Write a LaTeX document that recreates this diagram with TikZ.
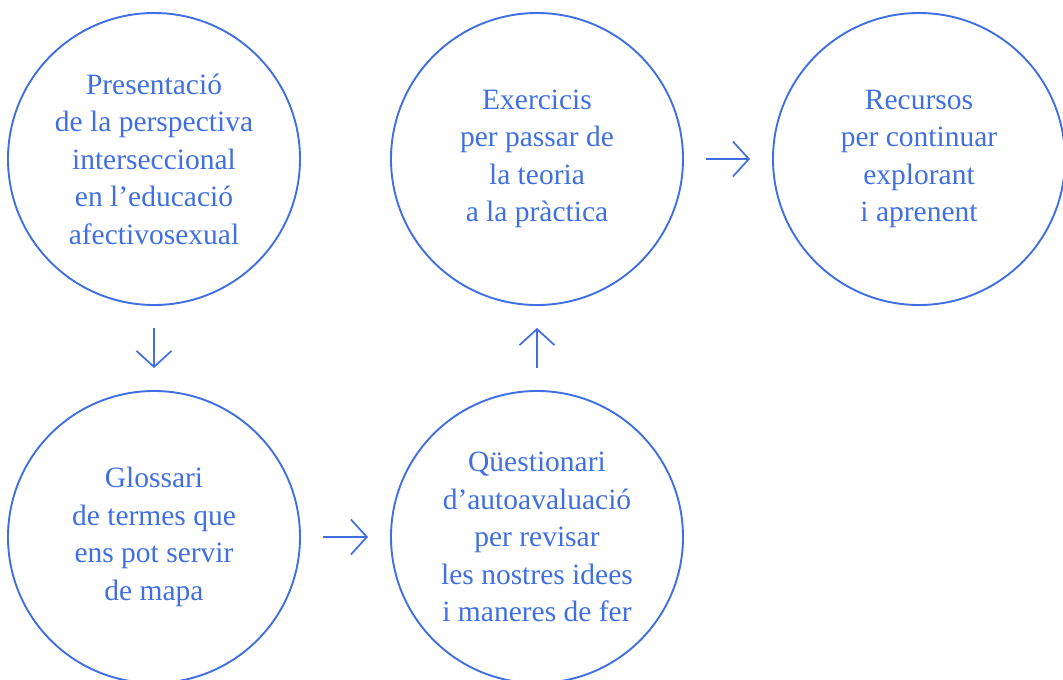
\documentclass[tikz,border=0pt]{standalone}
\usepackage{fontspec}
\setmainfont{Liberation Serif}
\usetikzlibrary{arrows.meta}
\definecolor{ringblue}{HTML}{3F6FE2}
\tikzset{
  ring/.style={circle, draw=ringblue, line width=1.9pt, minimum size=292pt, inner sep=0pt,
    text=ringblue, align=center, font=\fontsize{29.5}{37.5}\selectfont},
  flow/.style={draw=ringblue, line width=1.7pt, shorten >=22pt, shorten <=22pt,
    -{Straight Barb[length=16pt,width=35pt,line width=1.7pt]}}
}
\begin{document}
\begin{tikzpicture}[x=1pt,y=-1pt]
      \useasboundingbox (0,0) rectangle (1063,680);
      \clip (0,0) rectangle (1063,680);
      \node[ring] (pres) at (154,159) {Presentació\\de la perspectiva\\interseccional\\en l’educació\\afectivosexual};
      \node[ring] (exer) at (537,159) {Exercicis\\per passar de\\la teoria\\a la pràctica};
      \node[ring] (recu) at (919,159) {Recursos\\per continuar\\explorant\\i aprenent};
      \node[ring] (glos) at (154,537) {Glossari\\de termes que\\ens pot servir\\de mapa};
      \node[ring] (ques) at (537,537) {Qüestionari\\d’autoavaluació\\per revisar\\les nostres idees\\i maneres de fer};
      \draw[flow] (pres.south) -- (glos.north);
      \draw[flow] (glos.east) -- (ques.west);
      \draw[flow] (ques.north) -- (exer.south);
      \draw[flow] (exer.east) -- (recu.west);
\end{tikzpicture}
\end{document}
